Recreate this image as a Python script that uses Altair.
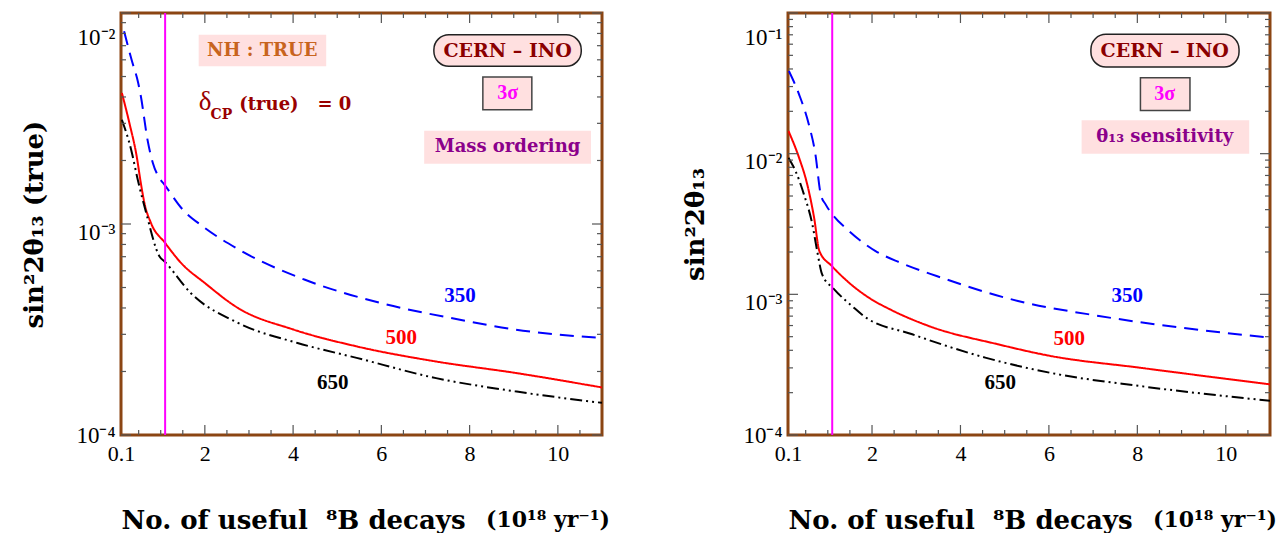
import altair as alt
import pandas as pd

# ---------------- data ----------------
series_names = ["350", "500", "650"]
series_colors = ["#0000FF", "#FF0000", "#000000"]

# Left panel: Mass ordering
blue_L_x = [0.17, 0.34, 0.49, 0.55, 0.70, 0.82, 0.97, 1.08, 1.50, 1.95, 2.71, 4.27, 5.97, 7.78, 9.03, 11.0]
blue_L_y = [8.2e-3, 6.0e-3, 4.66e-3, 4.03e-3, 2.51e-3, 1.95e-3, 1.65e-3, 1.54e-3, 1.17e-3, 9.75e-4, 7.69e-4, 5.44e-4, 4.23e-4, 3.52e-4, 3.16e-4, 2.88e-4]
red_L_x = [0.12, 0.29, 0.456, 0.55, 0.63, 0.78, 1.10, 1.46, 2.0, 2.75, 4.01, 5.44, 7.24, 9.03, 11.0]
red_L_y = [4.18e-3, 3.01e-3, 2.09e-3, 1.56e-3, 1.26e-3, 1.01e-3, 8.13e-4, 6.54e-4, 5.25e-4, 4.0e-4, 3.16e-4, 2.63e-4, 2.23e-4, 1.97e-4, 1.68e-4]
black_L_x = [0.12, 0.33, 0.48, 0.67, 0.97, 1.10, 1.68, 2.75, 4.1, 5.44, 7.24, 9.03, 11.0]
black_L_y = [3.12e-3, 2.25e-3, 1.62e-3, 1.13e-3, 7.03e-4, 6.6e-4, 4.71e-4, 3.4e-4, 2.73e-4, 2.32e-4, 1.86e-4, 1.61e-4, 1.42e-4]

# Right panel: theta13 sensitivity
blue_R_x = [0.12, 0.35, 0.57, 0.72, 0.84, 0.95, 1.1, 1.48, 2.08, 2.64, 3.46, 5.3, 7.13, 8.97, 11.0]
blue_R_y = [3.87e-2, 2.64e-2, 1.62e-2, 9.9e-3, 5.14e-3, 4.36e-3, 3.71e-3, 2.82e-3, 2.03e-3, 1.68e-3, 1.35e-3, 8.97e-4, 7.02e-4, 5.8e-4, 4.92e-4]
red_R_x = [0.11, 0.35, 0.535, 0.69, 0.81, 1.1, 1.48, 1.93, 2.45, 3.28, 4.84, 6.03, 8.05, 11.0]
red_R_y = [1.45e-2, 9.36e-3, 6.05e-3, 3.51e-3, 2.03e-3, 1.58e-3, 1.21e-3, 9.46e-4, 7.7e-4, 5.96e-4, 4.42e-4, 3.65e-4, 3.01e-4, 2.29e-4]
black_R_x = [0.11, 0.27, 0.46, 0.65, 0.76, 0.87, 1.14, 1.59, 1.81, 2.91, 4.56, 6.21, 8.05, 11.0]
black_R_y = [9.36e-3, 7.53e-3, 5.14e-3, 3.15e-3, 2.03e-3, 1.39e-3, 1.09e-3, 8.03e-4, 7.02e-4, 5.2e-4, 3.55e-4, 2.7e-4, 2.23e-4, 1.75e-4]

x_tick_labels = [0.1, 2, 4, 6, 8, 10]
x_minor_ticks = [0.5, 1, 1.5, 2.5, 3, 3.5, 4.5, 5, 5.5, 6.5, 7, 7.5, 8.5, 9, 9.5, 10.5]
x_major_ticks = [2, 4, 6, 8, 10]
cut_line_x = [1.1]

# ---------------- styling ----------------
BROWN = "#8B4513"
PINK = "#FFE0E0"
TICK = "#555555"
H = 422
XDOM = [0.1, 11]
SERIF_B = "DejaVu Serif"
SERIF = "Liberation Serif"
NB = "\u00a0"


def curves_df(xs_list, ys_list):
    rows = []
    for name, xs, ys in zip(series_names, xs_list, ys_list):
        for i, (a, b) in enumerate(zip(xs, ys)):
            rows.append({"series": name, "x": a, "y": b, "i": i})
    return pd.DataFrame(rows)


def make_panel(df, ydom, ymajor, yminor, curve_labels, boxes, texts, ytitle,
               width, unit_dx, title_pad_y):
    xs = alt.Scale(domain=XDOM, nice=False, zero=False)
    ys = alt.Scale(type="log", domain=ydom, nice=False)
    label_expr = "'10' + (datum.value < 0.0005 ? '⁻⁴' : datum.value < 0.005 ? '⁻³' : datum.value < 0.05 ? '⁻²' : '⁻¹')"
    xaxis = alt.Axis(values=x_tick_labels,
                     labelExpr="datum.value < 1 ? '0.1' : '' + datum.value",
                     ticks=False, domain=False, grid=False,
                     labelFont=SERIF, labelFontSize=22, labelColor="black", labelPadding=8,
                     labelFlush=False,
                     title="No. of useful" + NB + NB + "⁸B decays", titleFont=SERIF_B, titleFontWeight="bold",
                     titleFontSize=26, titleColor="black", titleAnchor="start", titleAlign="left",
                     titlePadding=43)
    yaxis = alt.Axis(values=ymajor, labelExpr=label_expr, ticks=False, domain=False, grid=False,
                     labelFont=SERIF, labelFontSize=23, labelColor="black", labelPadding=6,
                     labelOffset={"condition": [
                         {"test": f"datum.value > {ydom[1] * 0.5}", "value": 24},
                         {"test": f"datum.value < {ydom[0] * 1.5}", "value": 0}],
                         "value": 8},
                     labelFlush=False,
                     title=ytitle, titleFont=SERIF_B, titleFontWeight="bold", titleFontSize=26,
                     titleColor="black", titlePadding=title_pad_y)
    X = lambda f="x": alt.X(f"{f}:Q", scale=xs, axis=xaxis)
    Y = lambda f="y": alt.Y(f"{f}:Q", scale=ys, axis=yaxis)

    layers = []
    # background boxes
    for b in boxes:
        bdf = pd.DataFrame([{"x": b["x"][0], "x2": b["x"][1], "y": b["y"][0], "y2": b["y"][1]}])
        kw = dict(fill=PINK)
        if b.get("stroke"):
            kw.update(stroke=b["stroke"], strokeWidth=1.5)
        if b.get("r"):
            kw.update(cornerRadius=b["r"])
        layers.append(alt.Chart(bdf).mark_rect(**kw).encode(x=X(), x2="x2:Q", y=Y(), y2="y2:Q"))

    # curves
    cs = alt.Scale(domain=series_names, range=series_colors)
    ds = alt.Scale(domain=series_names, range=[[14, 8], [1, 0], [12, 4, 2, 4, 2, 4]])
    layers.append(alt.Chart(df).mark_line(strokeWidth=2, interpolate="monotone", clip=True).encode(
        x=X(), y=Y(),
        color=alt.Color("series:N", scale=cs, legend=None),
        strokeDash=alt.StrokeDash("series:N", scale=ds, legend=None),
        order="i:Q",
    ))

    # magenta cut line
    layers.append(alt.Chart(pd.DataFrame({"x": cut_line_x})).mark_rule(color="#FF00FF", strokeWidth=2).encode(x=X()))

    # inward ticks
    def xt(vals, L):
        d = pd.DataFrame({"x": vals})
        return [alt.Chart(d).mark_rule(color=TICK, strokeWidth=1.2).encode(x=X(), y=alt.value(H), y2=alt.value(H - L)),
                alt.Chart(d).mark_rule(color=TICK, strokeWidth=1.2).encode(x=X(), y=alt.value(0), y2=alt.value(L))]

    def yt(vals, L):
        d = pd.DataFrame({"y": vals})
        return [alt.Chart(d).mark_rule(color=TICK, strokeWidth=1.2).encode(y=Y(), x=alt.value(0), x2=alt.value(L)),
                alt.Chart(d).mark_rule(color=TICK, strokeWidth=1.2).encode(y=Y(), x=alt.value(width), x2=alt.value(width - L))]

    layers += xt(x_major_ticks, 10) + xt(x_minor_ticks, 5) + yt(ymajor, 10) + yt(yminor, 5)

    # curve labels
    ldf = pd.DataFrame(curve_labels)
    layers.append(alt.Chart(ldf).mark_text(font=SERIF, fontWeight="bold", fontSize=21).encode(
        x=X(), y=Y(), text="series:N",
        color=alt.Color("series:N", scale=cs, legend=None)))

    # annotation texts
    for t in texts:
        tdf = pd.DataFrame([{"x": t["x"], "y": t["y"], "t": t["t"]}])
        layers.append(alt.Chart(tdf).mark_text(
            font=t.get("font", SERIF_B), fontWeight=t.get("w", "bold"), fontSize=t["s"],
            color=t["c"], align=t.get("align", "center"), baseline=t.get("base", "middle")).encode(
            x=X(), y=Y(), text="t:N"))

    # unit part of x title
    layers.append(alt.Chart(pd.DataFrame({"t": ["(10¹⁸ yr⁻¹)"]})).mark_text(
        font=SERIF_B, fontWeight="bold", fontSize=22, color="black", align="left",
        baseline="alphabetic").encode(x=alt.value(unit_dx), y=alt.value(H + 92), text="t:N"))

    return alt.layer(*layers).properties(width=width, height=H)


# ---------------- panels ----------------
left_df = curves_df([blue_L_x, red_L_x, black_L_x], [blue_L_y, red_L_y, black_L_y])
right_df = curves_df([blue_R_x, red_R_x, black_R_x], [blue_R_y, red_R_y, black_R_y])

left = make_panel(
    left_df, [1e-4, 1e-2], [1e-4, 1e-3, 1e-2],
    [k * 1e-4 for k in range(2, 10)] + [k * 1e-3 for k in range(2, 10)],
    [{"series": "350", "x": 7.78, "y": 4.56e-4},
     {"series": "500", "x": 6.45, "y": 2.88e-4},
     {"series": "650", "x": 4.9, "y": 1.76e-4}],
    [{"x": [1.86, 4.75], "y": [5.59e-3, 7.89e-3]},
     {"x": [7.19, 10.53], "y": [5.59e-3, 7.89e-3], "stroke": "#222222", "r": 15},
     {"x": [8.30, 9.41], "y": [3.48e-3, 4.98e-3], "stroke": "#444444"},
     {"x": [6.97, 10.75], "y": [1.93e-3, 2.77e-3]}],
    [{"x": 3.3, "y": 6.64e-3, "t": "NH : TRUE", "s": 18, "c": "#C8641E"},
     {"x": 8.86, "y": 6.64e-3, "t": "CERN – INO", "s": 19, "c": "#8B0000"},
     {"x": 8.86, "y": 4.17e-3, "t": "3σ", "s": 20, "c": "#FF00FF", "font": SERIF},
     {"x": 8.86, "y": 2.31e-3, "t": "Mass ordering", "s": 18, "c": "#8B008B"},
     {"x": 1.86, "y": 3.47e-3, "t": "δ", "s": 27, "c": "#990000", "font": SERIF, "w": "normal",
      "align": "left", "base": "alphabetic"},
     {"x": 2.13, "y": 3.15e-3, "t": "CP", "s": 14, "c": "#990000", "align": "left", "base": "alphabetic"},
     {"x": 2.78, "y": 3.47e-3, "t": "(true)" + NB + NB + NB + "= 0", "s": 18, "c": "#990000", "align": "left",
      "base": "alphabetic"}],
    "sin²2θ₁₃ (true)", 481, 365, 28)

right = make_panel(
    right_df, [1e-4, 1e-1], [1e-4, 1e-3, 1e-2, 1e-1],
    [k * 1e-4 for k in range(2, 10)] + [k * 1e-3 for k in range(2, 10)] + [k * 1e-2 for k in range(2, 10)],
    [{"series": "350", "x": 7.77, "y": 9.72e-4},
     {"series": "500", "x": 6.46, "y": 4.84e-4},
     {"series": "650", "x": 4.9, "y": 2.35e-4}],
    [{"x": [6.95, 10.30], "y": [4.13e-2, 7.06e-2], "stroke": "#222222", "r": 15},
     {"x": [8.07, 9.19], "y": [2.03e-2, 3.47e-2], "stroke": "#444444"},
     {"x": [6.74, 10.53], "y": [1.0e-2, 1.73e-2]}],
    [{"x": 8.62, "y": 5.40e-2, "t": "CERN – INO", "s": 19, "c": "#8B0000"},
     {"x": 8.62, "y": 2.65e-2, "t": "3σ", "s": 20, "c": "#FF00FF", "font": SERIF},
     {"x": 8.62, "y": 1.32e-2, "t": "θ₁₃ sensitivity", "s": 18, "c": "#8B008B"}],
    "sin²2θ₁₃", 482, 365, 34)

chart = alt.hconcat(left, right, spacing=69).properties(
    padding={"left": 12, "top": 2, "right": 0, "bottom": 0}
).configure_view(stroke=BROWN, strokeWidth=3)

chart.save("out.html", embed_options={"renderer": "svg", "actions": False})
